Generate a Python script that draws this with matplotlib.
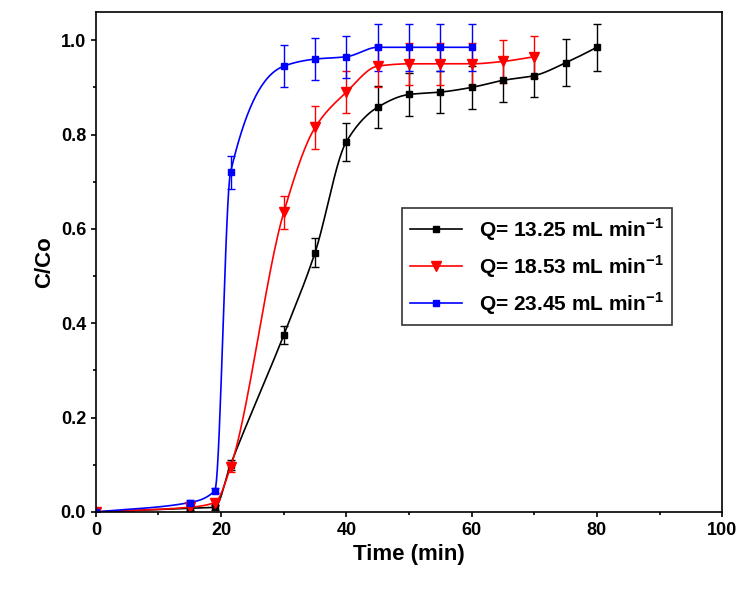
import numpy as np
import matplotlib
matplotlib.use("Agg")
import matplotlib.pyplot as plt
from matplotlib.lines import Line2D

t1 = [0, 15, 19, 21.5, 30, 35, 40, 45, 50, 55, 60, 65, 70, 75, 80]
c1 = [0, 0.008, 0.01, 0.1, 0.375, 0.55, 0.785, 0.858, 0.885, 0.89, 0.9, 0.915, 0.925, 0.952, 0.985]
e1 = [0, 0.005, 0.005, 0.01, 0.02, 0.03, 0.04, 0.045, 0.045, 0.045, 0.045, 0.045, 0.045, 0.05, 0.05]
t2 = [0, 15, 19, 21.5, 30, 35, 40, 45, 50, 55, 60, 65, 70]
c2 = [0, 0.01, 0.02, 0.095, 0.635, 0.815, 0.89, 0.945, 0.95, 0.95, 0.95, 0.955, 0.965]
e2 = [0, 0.005, 0.005, 0.01, 0.035, 0.045, 0.045, 0.045, 0.045, 0.045, 0.045, 0.045, 0.045]
t3 = [0, 15, 19, 21.5, 30, 35, 40, 45, 50, 55, 60]
c3 = [0, 0.02, 0.045, 0.72, 0.945, 0.96, 0.965, 0.985, 0.985, 0.985, 0.985]
e3 = [0, 0.005, 0.005, 0.035, 0.045, 0.045, 0.045, 0.05, 0.05, 0.05, 0.05]
labels = ["Q= 13.25 mL min$^{\\mathregular{-1}}$", "Q= 18.53 mL min$^{\\mathregular{-1}}$",
          "Q= 23.45 mL min$^{\\mathregular{-1}}$"]

def pchip(x, y, xn):
    x = np.asarray(x, float); y = np.asarray(y, float)
    h = np.diff(x); d = np.diff(y) / h
    m = np.zeros_like(y)
    for k in range(1, len(x) - 1):
        if d[k-1] * d[k] > 0:
            w1 = 2*h[k] + h[k-1]; w2 = h[k] + 2*h[k-1]
            m[k] = (w1 + w2) / (w1/d[k-1] + w2/d[k])
    m[0] = d[0]; m[-1] = d[-1]
    i = np.clip(np.searchsorted(x, xn) - 1, 0, len(h) - 1)
    s = (xn - x[i]) / h[i]
    h00 = 2*s**3 - 3*s**2 + 1; h10 = s**3 - 2*s**2 + s
    h01 = -2*s**3 + 3*s**2; h11 = s**3 - s**2
    return h00*y[i] + h10*h[i]*m[i] + h01*y[i+1] + h11*h[i]*m[i+1]

plt.rcParams['font.family'] = 'Liberation Sans'
fig, ax = plt.subplots(figsize=(7.43, 5.96), dpi=100)
fig.subplots_adjust(left=0.129, right=0.972, top=0.98, bottom=0.141)
handles = []
for t, c, e, col, mk, lab in [(t1, c1, e1, 'black', 's', labels[0]),
                               (t2, c2, e2, 'red', 'v', labels[1]),
                               (t3, c3, e3, 'blue', 's', labels[2])]:
    xs = np.linspace(0, t[-1], 400)
    ax.plot(xs, pchip(t, c, xs), color=col, lw=1.2)
    ms = 7 if mk == 'v' else 5
    ax.errorbar(t, c, yerr=e, fmt=mk, color=col, ms=ms, ls='none',
                capsize=3, elinewidth=1, ecolor=col)
    handles.append(Line2D([], [], color=col, marker=mk, ms=ms, lw=1.2, label=lab))
ax.set_xlim(0, 100); ax.set_ylim(0, 1.06)
ax.set_xticks(range(0, 101, 20)); ax.set_yticks(np.arange(0, 1.01, 0.2))
ax.set_yticklabels([f"{v:.1f}" for v in np.arange(0, 1.01, 0.2)])
ax.set_xticks(range(10, 100, 20), minor=True)
ax.set_yticks(np.arange(0.1, 1.05, 0.2), minor=True)
ax.tick_params(which='both', direction='out', width=1.2)
ax.tick_params(labelsize=13)
for l in ax.get_xticklabels() + ax.get_yticklabels():
    l.set_fontweight('bold')
for s in ax.spines.values():
    s.set_linewidth(1.2)
ax.set_xlabel("Time (min)", fontsize=16, fontweight='bold')
ax.set_ylabel("C/Co", fontsize=16, fontweight='bold')
leg = ax.legend(handles=handles, loc='upper right', bbox_to_anchor=(0.92, 0.608),
                prop={'weight': 'bold', 'size': 15}, fancybox=False, edgecolor='black',
                handlelength=2.5, borderaxespad=0)
leg.get_frame().set_linewidth(1.2)
fig.savefig("out.png")
